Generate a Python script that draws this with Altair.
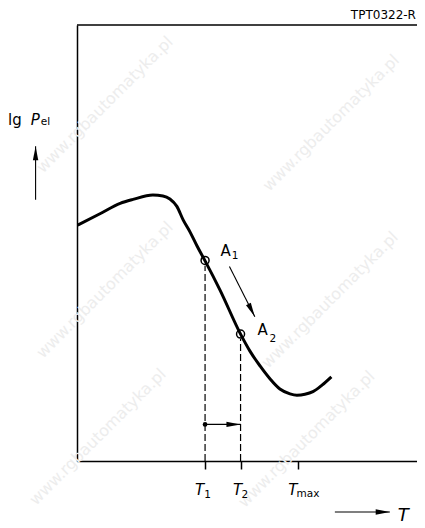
import altair as alt
import pandas as pd

# ---------------- data (abstract units) ----------------
curve_T = [0.2, 6.6, 12.4, 16.1, 21.8, 24.7, 26.7, 28.7, 30.5, 32.5, 34.5, 36.8,
           41.1, 47.0, 49.7, 52.6, 55.5, 58.3, 61.2, 63.2, 65.5, 67.8, 70.4, 73.1]
curve_lgP = [54.1, 56.7, 59.1, 60.0, 61.0, 60.8, 60.1, 58.4, 55.3, 52.5, 49.3, 45.9,
             39.2, 29.1, 25.2, 21.8, 18.8, 16.5, 15.4, 15.1, 15.3, 15.9, 17.4, 19.3]

point_names = ["A1", "A2"]
point_T = [36.8, 47.0]
point_lgP = [46.0, 29.1]

tick_names = ["T1", "T2", "Tmax"]
tick_T = [36.8, 47.0, 63.4]

dash_T = [36.8, 47.0]
dash_top = [44.8, 28.0]

start_dot_T = [36.8]
start_dot_lgP = [8.4]

arrow_T0 = [43.8, 36.8, 74.1, -11.9]
arrow_L0 = [44.6, 8.4, -11.7, 59.9]
arrow_T1 = [51.1, 47.0, 89.9, -11.9]
arrow_L1 = [33.1, 8.4, -11.7, 72.2]
arrow_angle = [153, 90, 90, 0]

T_domain = [0, 97.7]
L_domain = [0, 100]

reg_text = ["lg", "A", "A"]
reg_T = [-19.8, 41.2, 51.9]
reg_L = [77.1, 47.0, 28.8]

ital_text = ["P", "T", "T", "T"]
ital_T = [-13.3, 33.9, 44.8, 60.7]
ital_L = [77.1, -7.8, -7.8, -7.8]

sub_text = ["el", "1", "2", "1", "2", "max"]
sub_T = [-10.4, 44.5, 55.3, 36.6, 47.3, 63.1]
sub_L = [77.0, 46.4, 27.4, -8.4, -8.4, -8.2]

axis_title_text = ["T"]
axis_title_T = [92.2]
axis_title_L = [-13.8]

code_text = ["TPT0322-R"]
code_T = [97.4]
code_L = [101.3]

wm_text = ["www.rgbautomatyka.pl"] * 6
wm_T = [8.0, 73.0, 8.0, 72.7, 6.0, 66.0]
wm_L = [81.7, 77.5, 39.2, 36.9, 5.5, 5.0]

# ---------------- chart ----------------
FONT = "DejaVu Sans"
xs = alt.Scale(domain=T_domain, nice=False, zero=False)
ys = alt.Scale(domain=L_domain, nice=False, zero=False)
x_axis = alt.Axis(values=tick_T, labels=False, title=None, grid=False, tickSize=8,
                  tickWidth=1.5, tickColor="black", domainColor="black", domainWidth=1.5)
y_axis = alt.Axis(labels=False, ticks=False, title=None, grid=False,
                  domainColor="black", domainWidth=1.5)


def X(f):
    return alt.X(f, type="quantitative", scale=xs, axis=x_axis)


def Y(f):
    return alt.Y(f, type="quantitative", scale=ys, axis=y_axis)


curve_df = pd.DataFrame({"T": curve_T, "L": curve_lgP})
pts_df = pd.DataFrame({"name": point_names, "T": point_T, "L": point_lgP})
dash_df = pd.DataFrame({"T": dash_T, "L0": [L_domain[0]] * len(dash_T), "L1": dash_top})
dot_df = pd.DataFrame({"T": start_dot_T, "L": start_dot_lgP})
arr_df = pd.DataFrame({"T0": arrow_T0, "L0": arrow_L0, "T1": arrow_T1, "L1": arrow_L1,
                       "ang": arrow_angle})
top_df = pd.DataFrame({"T0": [T_domain[0]], "T1": [T_domain[1]], "L": [L_domain[1]]})


def tdf(t, x, y):
    return pd.DataFrame({"txt": t, "T": x, "L": y})


wm = alt.Chart(tdf(wm_text, wm_T, wm_L)).mark_text(
    angle=315, fontSize=16, color="#ededed", font=FONT, align="center", baseline="middle"
).encode(x=X("T"), y=Y("L"), text="txt:N")

top_line = alt.Chart(top_df).mark_rule(color="black", strokeWidth=1.5).encode(
    x=X("T0"), x2="T1:Q", y=Y("L"))

dashes = alt.Chart(dash_df).mark_rule(color="black", strokeWidth=1.2, strokeDash=[7, 3]).encode(
    x=X("T"), y=Y("L0"), y2="L1:Q")

curve = alt.Chart(curve_df).mark_line(color="black", strokeWidth=3, interpolate="monotone").encode(
    x=X("T"), y=Y("L"))

circles = alt.Chart(pts_df).mark_point(shape="circle", size=64, filled=False, color="black",
                                       strokeWidth=1.5, opacity=1).encode(x=X("T"), y=Y("L"))

dot = alt.Chart(dot_df).mark_point(shape="circle", size=22, filled=True, color="black",
                                   opacity=1).encode(x=X("T"), y=Y("L"))

arr_lines = alt.Chart(arr_df).mark_rule(color="black", strokeWidth=1.1).encode(
    x=X("T0"), y=Y("L0"), x2="T1:Q", y2="L1:Q")

arr_heads = alt.Chart(arr_df).mark_point(shape="M0,0L0.38,2L-0.38,2Z", size=200, filled=True,
                                         color="black", opacity=1, strokeWidth=0).encode(
    x=X("T1"), y=Y("L1"), angle=alt.Angle("ang:Q", scale=None))

reg = alt.Chart(tdf(reg_text, reg_T, reg_L)).mark_text(
    fontSize=15, font=FONT, color="black", align="left", baseline="alphabetic"
).encode(x=X("T"), y=Y("L"), text="txt:N")

ital = alt.Chart(tdf(ital_text, ital_T, ital_L)).mark_text(
    fontSize=15, font=FONT, fontStyle="italic", color="black", align="left", baseline="alphabetic"
).encode(x=X("T"), y=Y("L"), text="txt:N")

sub = alt.Chart(tdf(sub_text, sub_T, sub_L)).mark_text(
    fontSize=10.5, font=FONT, color="black", align="left", baseline="alphabetic"
).encode(x=X("T"), y=Y("L"), text="txt:N")

axis_title = alt.Chart(tdf(axis_title_text, axis_title_T, axis_title_L)).mark_text(
    fontSize=18, font=FONT, fontStyle="italic", color="black", align="left", baseline="alphabetic"
).encode(x=X("T"), y=Y("L"), text="txt:N")

code = alt.Chart(tdf(code_text, code_T, code_L)).mark_text(
    fontSize=12, font=FONT, color="black", align="right", baseline="alphabetic"
).encode(x=X("T"), y=Y("L"), text="txt:N")

chart = alt.layer(
    wm, top_line, dashes, curve, circles, dot, arr_lines, arr_heads,
    reg, ital, sub, axis_title, code
).properties(
    width=340, height=436,
    autosize=alt.AutoSizeParams(type="none"),
    padding={"left": 69, "top": 17, "right": 0, "bottom": 64},
    background="white",
).configure_view(stroke=None)

chart.save("out.html", embed_options={"renderer": "svg", "actions": False})
